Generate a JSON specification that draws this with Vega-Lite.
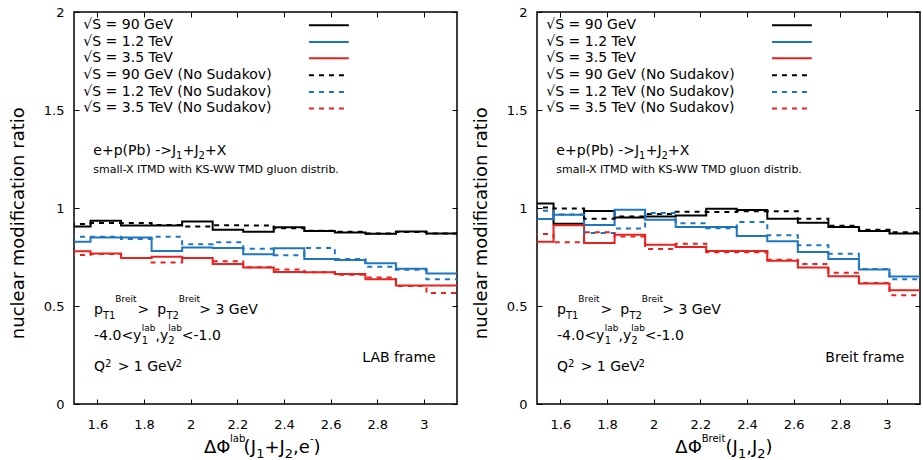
{
  "$schema": "https://vega.github.io/schema/vega-lite/v6.json",
  "background": "white",
  "padding": {"left": 8, "top": 5, "right": 2, "bottom": 2},
  "spacing": 12,
  "datasets": {
    "lab": [
      {"series": "√S = 90 GeV", "x0": 1.4399, "x1": 1.5708, "v": 0.906},
      {"series": "√S = 90 GeV", "x0": 1.5708, "x1": 1.7017, "v": 0.935},
      {"series": "√S = 90 GeV", "x0": 1.7017, "x1": 1.8326, "v": 0.911},
      {"series": "√S = 90 GeV", "x0": 1.8326, "x1": 1.9635, "v": 0.911},
      {"series": "√S = 90 GeV", "x0": 1.9635, "x1": 2.0944, "v": 0.931},
      {"series": "√S = 90 GeV", "x0": 2.0944, "x1": 2.2253, "v": 0.889},
      {"series": "√S = 90 GeV", "x0": 2.2253, "x1": 2.3562, "v": 0.879},
      {"series": "√S = 90 GeV", "x0": 2.3562, "x1": 2.4871, "v": 0.902},
      {"series": "√S = 90 GeV", "x0": 2.4871, "x1": 2.618, "v": 0.883},
      {"series": "√S = 90 GeV", "x0": 2.618, "x1": 2.7489, "v": 0.875},
      {"series": "√S = 90 GeV", "x0": 2.7489, "x1": 2.8798, "v": 0.868},
      {"series": "√S = 90 GeV", "x0": 2.8798, "x1": 3.0107, "v": 0.880},
      {"series": "√S = 90 GeV", "x0": 3.0107, "x1": 3.1416, "v": 0.870},
      {"series": "√S = 1.2 TeV", "x0": 1.4399, "x1": 1.5708, "v": 0.828},
      {"series": "√S = 1.2 TeV", "x0": 1.5708, "x1": 1.7017, "v": 0.850},
      {"series": "√S = 1.2 TeV", "x0": 1.7017, "x1": 1.8326, "v": 0.850},
      {"series": "√S = 1.2 TeV", "x0": 1.8326, "x1": 1.9635, "v": 0.781},
      {"series": "√S = 1.2 TeV", "x0": 1.9635, "x1": 2.0944, "v": 0.799},
      {"series": "√S = 1.2 TeV", "x0": 2.0944, "x1": 2.2253, "v": 0.796},
      {"series": "√S = 1.2 TeV", "x0": 2.2253, "x1": 2.3562, "v": 0.764},
      {"series": "√S = 1.2 TeV", "x0": 2.3562, "x1": 2.4871, "v": 0.795},
      {"series": "√S = 1.2 TeV", "x0": 2.4871, "x1": 2.618, "v": 0.740},
      {"series": "√S = 1.2 TeV", "x0": 2.618, "x1": 2.7489, "v": 0.735},
      {"series": "√S = 1.2 TeV", "x0": 2.7489, "x1": 2.8798, "v": 0.718},
      {"series": "√S = 1.2 TeV", "x0": 2.8798, "x1": 3.0107, "v": 0.690},
      {"series": "√S = 1.2 TeV", "x0": 3.0107, "x1": 3.1416, "v": 0.666},
      {"series": "√S = 3.5 TeV", "x0": 1.4399, "x1": 1.5708, "v": 0.779},
      {"series": "√S = 3.5 TeV", "x0": 1.5708, "x1": 1.7017, "v": 0.768},
      {"series": "√S = 3.5 TeV", "x0": 1.7017, "x1": 1.8326, "v": 0.745},
      {"series": "√S = 3.5 TeV", "x0": 1.8326, "x1": 1.9635, "v": 0.751},
      {"series": "√S = 3.5 TeV", "x0": 1.9635, "x1": 2.0944, "v": 0.745},
      {"series": "√S = 3.5 TeV", "x0": 2.0944, "x1": 2.2253, "v": 0.714},
      {"series": "√S = 3.5 TeV", "x0": 2.2253, "x1": 2.3562, "v": 0.696},
      {"series": "√S = 3.5 TeV", "x0": 2.3562, "x1": 2.4871, "v": 0.674},
      {"series": "√S = 3.5 TeV", "x0": 2.4871, "x1": 2.618, "v": 0.672},
      {"series": "√S = 3.5 TeV", "x0": 2.618, "x1": 2.7489, "v": 0.663},
      {"series": "√S = 3.5 TeV", "x0": 2.7489, "x1": 2.8798, "v": 0.636},
      {"series": "√S = 3.5 TeV", "x0": 2.8798, "x1": 3.0107, "v": 0.604},
      {"series": "√S = 3.5 TeV", "x0": 3.0107, "x1": 3.1416, "v": 0.604},
      {"series": "√S = 90 GeV (No Sudakov)", "x0": 1.4399, "x1": 1.5708, "v": 0.918},
      {"series": "√S = 90 GeV (No Sudakov)", "x0": 1.5708, "x1": 1.7017, "v": 0.923},
      {"series": "√S = 90 GeV (No Sudakov)", "x0": 1.7017, "x1": 1.8326, "v": 0.924},
      {"series": "√S = 90 GeV (No Sudakov)", "x0": 1.8326, "x1": 1.9635, "v": 0.913},
      {"series": "√S = 90 GeV (No Sudakov)", "x0": 1.9635, "x1": 2.0944, "v": 0.906},
      {"series": "√S = 90 GeV (No Sudakov)", "x0": 2.0944, "x1": 2.2253, "v": 0.912},
      {"series": "√S = 90 GeV (No Sudakov)", "x0": 2.2253, "x1": 2.3562, "v": 0.911},
      {"series": "√S = 90 GeV (No Sudakov)", "x0": 2.3562, "x1": 2.4871, "v": 0.897},
      {"series": "√S = 90 GeV (No Sudakov)", "x0": 2.4871, "x1": 2.618, "v": 0.884},
      {"series": "√S = 90 GeV (No Sudakov)", "x0": 2.618, "x1": 2.7489, "v": 0.879},
      {"series": "√S = 90 GeV (No Sudakov)", "x0": 2.7489, "x1": 2.8798, "v": 0.870},
      {"series": "√S = 90 GeV (No Sudakov)", "x0": 2.8798, "x1": 3.0107, "v": 0.878},
      {"series": "√S = 90 GeV (No Sudakov)", "x0": 3.0107, "x1": 3.1416, "v": 0.870},
      {"series": "√S = 1.2 TeV (No Sudakov)", "x0": 1.4399, "x1": 1.5708, "v": 0.853},
      {"series": "√S = 1.2 TeV (No Sudakov)", "x0": 1.5708, "x1": 1.7017, "v": 0.853},
      {"series": "√S = 1.2 TeV (No Sudakov)", "x0": 1.7017, "x1": 1.8326, "v": 0.842},
      {"series": "√S = 1.2 TeV (No Sudakov)", "x0": 1.8326, "x1": 1.9635, "v": 0.853},
      {"series": "√S = 1.2 TeV (No Sudakov)", "x0": 1.9635, "x1": 2.0944, "v": 0.815},
      {"series": "√S = 1.2 TeV (No Sudakov)", "x0": 2.0944, "x1": 2.2253, "v": 0.825},
      {"series": "√S = 1.2 TeV (No Sudakov)", "x0": 2.2253, "x1": 2.3562, "v": 0.792},
      {"series": "√S = 1.2 TeV (No Sudakov)", "x0": 2.3562, "x1": 2.4871, "v": 0.759},
      {"series": "√S = 1.2 TeV (No Sudakov)", "x0": 2.4871, "x1": 2.618, "v": 0.796},
      {"series": "√S = 1.2 TeV (No Sudakov)", "x0": 2.618, "x1": 2.7489, "v": 0.740},
      {"series": "√S = 1.2 TeV (No Sudakov)", "x0": 2.7489, "x1": 2.8798, "v": 0.700},
      {"series": "√S = 1.2 TeV (No Sudakov)", "x0": 2.8798, "x1": 3.0107, "v": 0.685},
      {"series": "√S = 1.2 TeV (No Sudakov)", "x0": 3.0107, "x1": 3.1416, "v": 0.637},
      {"series": "√S = 3.5 TeV (No Sudakov)", "x0": 1.4399, "x1": 1.5708, "v": 0.760},
      {"series": "√S = 3.5 TeV (No Sudakov)", "x0": 1.5708, "x1": 1.7017, "v": 0.765},
      {"series": "√S = 3.5 TeV (No Sudakov)", "x0": 1.7017, "x1": 1.8326, "v": 0.745},
      {"series": "√S = 3.5 TeV (No Sudakov)", "x0": 1.8326, "x1": 1.9635, "v": 0.722},
      {"series": "√S = 3.5 TeV (No Sudakov)", "x0": 1.9635, "x1": 2.0944, "v": 0.745},
      {"series": "√S = 3.5 TeV (No Sudakov)", "x0": 2.0944, "x1": 2.2253, "v": 0.728},
      {"series": "√S = 3.5 TeV (No Sudakov)", "x0": 2.2253, "x1": 2.3562, "v": 0.698},
      {"series": "√S = 3.5 TeV (No Sudakov)", "x0": 2.3562, "x1": 2.4871, "v": 0.686},
      {"series": "√S = 3.5 TeV (No Sudakov)", "x0": 2.4871, "x1": 2.618, "v": 0.672},
      {"series": "√S = 3.5 TeV (No Sudakov)", "x0": 2.618, "x1": 2.7489, "v": 0.659},
      {"series": "√S = 3.5 TeV (No Sudakov)", "x0": 2.7489, "x1": 2.8798, "v": 0.646},
      {"series": "√S = 3.5 TeV (No Sudakov)", "x0": 2.8798, "x1": 3.0107, "v": 0.602},
      {"series": "√S = 3.5 TeV (No Sudakov)", "x0": 3.0107, "x1": 3.1416, "v": 0.566}
    ],
    "breit": [
      {"series": "√S = 90 GeV", "x0": 1.4399, "x1": 1.5708, "v": 1.023},
      {"series": "√S = 90 GeV", "x0": 1.5708, "x1": 1.7017, "v": 0.920},
      {"series": "√S = 90 GeV", "x0": 1.7017, "x1": 1.8326, "v": 0.985},
      {"series": "√S = 90 GeV", "x0": 1.8326, "x1": 1.9635, "v": 0.952},
      {"series": "√S = 90 GeV", "x0": 1.9635, "x1": 2.0944, "v": 0.957},
      {"series": "√S = 90 GeV", "x0": 2.0944, "x1": 2.2253, "v": 0.962},
      {"series": "√S = 90 GeV", "x0": 2.2253, "x1": 2.3562, "v": 0.996},
      {"series": "√S = 90 GeV", "x0": 2.3562, "x1": 2.4871, "v": 0.990},
      {"series": "√S = 90 GeV", "x0": 2.4871, "x1": 2.618, "v": 0.945},
      {"series": "√S = 90 GeV", "x0": 2.618, "x1": 2.7489, "v": 0.925},
      {"series": "√S = 90 GeV", "x0": 2.7489, "x1": 2.8798, "v": 0.903},
      {"series": "√S = 90 GeV", "x0": 2.8798, "x1": 3.0107, "v": 0.883},
      {"series": "√S = 90 GeV", "x0": 3.0107, "x1": 3.1416, "v": 0.870},
      {"series": "√S = 1.2 TeV", "x0": 1.4399, "x1": 1.5708, "v": 0.944},
      {"series": "√S = 1.2 TeV", "x0": 1.5708, "x1": 1.7017, "v": 0.965},
      {"series": "√S = 1.2 TeV", "x0": 1.7017, "x1": 1.8326, "v": 0.913},
      {"series": "√S = 1.2 TeV", "x0": 1.8326, "x1": 1.9635, "v": 0.991},
      {"series": "√S = 1.2 TeV", "x0": 1.9635, "x1": 2.0944, "v": 0.940},
      {"series": "√S = 1.2 TeV", "x0": 2.0944, "x1": 2.2253, "v": 0.903},
      {"series": "√S = 1.2 TeV", "x0": 2.2253, "x1": 2.3562, "v": 0.903},
      {"series": "√S = 1.2 TeV", "x0": 2.3562, "x1": 2.4871, "v": 0.857},
      {"series": "√S = 1.2 TeV", "x0": 2.4871, "x1": 2.618, "v": 0.830},
      {"series": "√S = 1.2 TeV", "x0": 2.618, "x1": 2.7489, "v": 0.776},
      {"series": "√S = 1.2 TeV", "x0": 2.7489, "x1": 2.8798, "v": 0.740},
      {"series": "√S = 1.2 TeV", "x0": 2.8798, "x1": 3.0107, "v": 0.686},
      {"series": "√S = 1.2 TeV", "x0": 3.0107, "x1": 3.1416, "v": 0.650},
      {"series": "√S = 3.5 TeV", "x0": 1.4399, "x1": 1.5708, "v": 0.828},
      {"series": "√S = 3.5 TeV", "x0": 1.5708, "x1": 1.7017, "v": 0.912},
      {"series": "√S = 3.5 TeV", "x0": 1.7017, "x1": 1.8326, "v": 0.821},
      {"series": "√S = 3.5 TeV", "x0": 1.8326, "x1": 1.9635, "v": 0.864},
      {"series": "√S = 3.5 TeV", "x0": 1.9635, "x1": 2.0944, "v": 0.812},
      {"series": "√S = 3.5 TeV", "x0": 2.0944, "x1": 2.2253, "v": 0.801},
      {"series": "√S = 3.5 TeV", "x0": 2.2253, "x1": 2.3562, "v": 0.781},
      {"series": "√S = 3.5 TeV", "x0": 2.3562, "x1": 2.4871, "v": 0.781},
      {"series": "√S = 3.5 TeV", "x0": 2.4871, "x1": 2.618, "v": 0.731},
      {"series": "√S = 3.5 TeV", "x0": 2.618, "x1": 2.7489, "v": 0.696},
      {"series": "√S = 3.5 TeV", "x0": 2.7489, "x1": 2.8798, "v": 0.652},
      {"series": "√S = 3.5 TeV", "x0": 2.8798, "x1": 3.0107, "v": 0.615},
      {"series": "√S = 3.5 TeV", "x0": 3.0107, "x1": 3.1416, "v": 0.580},
      {"series": "√S = 90 GeV (No Sudakov)", "x0": 1.4399, "x1": 1.5708, "v": 1.003},
      {"series": "√S = 90 GeV (No Sudakov)", "x0": 1.5708, "x1": 1.7017, "v": 0.997},
      {"series": "√S = 90 GeV (No Sudakov)", "x0": 1.7017, "x1": 1.8326, "v": 0.945},
      {"series": "√S = 90 GeV (No Sudakov)", "x0": 1.8326, "x1": 1.9635, "v": 0.957},
      {"series": "√S = 90 GeV (No Sudakov)", "x0": 1.9635, "x1": 2.0944, "v": 0.969},
      {"series": "√S = 90 GeV (No Sudakov)", "x0": 2.0944, "x1": 2.2253, "v": 0.981},
      {"series": "√S = 90 GeV (No Sudakov)", "x0": 2.2253, "x1": 2.3562, "v": 0.980},
      {"series": "√S = 90 GeV (No Sudakov)", "x0": 2.3562, "x1": 2.4871, "v": 0.983},
      {"series": "√S = 90 GeV (No Sudakov)", "x0": 2.4871, "x1": 2.618, "v": 0.983},
      {"series": "√S = 90 GeV (No Sudakov)", "x0": 2.618, "x1": 2.7489, "v": 0.945},
      {"series": "√S = 90 GeV (No Sudakov)", "x0": 2.7489, "x1": 2.8798, "v": 0.910},
      {"series": "√S = 90 GeV (No Sudakov)", "x0": 2.8798, "x1": 3.0107, "v": 0.889},
      {"series": "√S = 90 GeV (No Sudakov)", "x0": 3.0107, "x1": 3.1416, "v": 0.876},
      {"series": "√S = 1.2 TeV (No Sudakov)", "x0": 1.4399, "x1": 1.5708, "v": 0.986},
      {"series": "√S = 1.2 TeV (No Sudakov)", "x0": 1.5708, "x1": 1.7017, "v": 0.967},
      {"series": "√S = 1.2 TeV (No Sudakov)", "x0": 1.7017, "x1": 1.8326, "v": 0.872},
      {"series": "√S = 1.2 TeV (No Sudakov)", "x0": 1.8326, "x1": 1.9635, "v": 0.896},
      {"series": "√S = 1.2 TeV (No Sudakov)", "x0": 1.9635, "x1": 2.0944, "v": 0.974},
      {"series": "√S = 1.2 TeV (No Sudakov)", "x0": 2.0944, "x1": 2.2253, "v": 0.922},
      {"series": "√S = 1.2 TeV (No Sudakov)", "x0": 2.2253, "x1": 2.3562, "v": 0.897},
      {"series": "√S = 1.2 TeV (No Sudakov)", "x0": 2.3562, "x1": 2.4871, "v": 0.928},
      {"series": "√S = 1.2 TeV (No Sudakov)", "x0": 2.4871, "x1": 2.618, "v": 0.861},
      {"series": "√S = 1.2 TeV (No Sudakov)", "x0": 2.618, "x1": 2.7489, "v": 0.810},
      {"series": "√S = 1.2 TeV (No Sudakov)", "x0": 2.7489, "x1": 2.8798, "v": 0.766},
      {"series": "√S = 1.2 TeV (No Sudakov)", "x0": 2.8798, "x1": 3.0107, "v": 0.689},
      {"series": "√S = 1.2 TeV (No Sudakov)", "x0": 3.0107, "x1": 3.1416, "v": 0.636},
      {"series": "√S = 3.5 TeV (No Sudakov)", "x0": 1.4399, "x1": 1.5708, "v": 0.867},
      {"series": "√S = 3.5 TeV (No Sudakov)", "x0": 1.5708, "x1": 1.7017, "v": 0.825},
      {"series": "√S = 3.5 TeV (No Sudakov)", "x0": 1.7017, "x1": 1.8326, "v": 0.876},
      {"series": "√S = 3.5 TeV (No Sudakov)", "x0": 1.8326, "x1": 1.9635, "v": 0.854},
      {"series": "√S = 3.5 TeV (No Sudakov)", "x0": 1.9635, "x1": 2.0944, "v": 0.791},
      {"series": "√S = 3.5 TeV (No Sudakov)", "x0": 2.0944, "x1": 2.2253, "v": 0.818},
      {"series": "√S = 3.5 TeV (No Sudakov)", "x0": 2.2253, "x1": 2.3562, "v": 0.774},
      {"series": "√S = 3.5 TeV (No Sudakov)", "x0": 2.3562, "x1": 2.4871, "v": 0.774},
      {"series": "√S = 3.5 TeV (No Sudakov)", "x0": 2.4871, "x1": 2.618, "v": 0.736},
      {"series": "√S = 3.5 TeV (No Sudakov)", "x0": 2.618, "x1": 2.7489, "v": 0.714},
      {"series": "√S = 3.5 TeV (No Sudakov)", "x0": 2.7489, "x1": 2.8798, "v": 0.670},
      {"series": "√S = 3.5 TeV (No Sudakov)", "x0": 2.8798, "x1": 3.0107, "v": 0.617},
      {"series": "√S = 3.5 TeV (No Sudakov)", "x0": 3.0107, "x1": 3.1416, "v": 0.555}
    ]
  },
  "hconcat": [
    {
      "width": 383,
      "height": 392,
      "resolve": {"axis": {"x": "independent", "y": "independent"}},
      "layer": [
        {
          "data": {"values": [{}]},
          "layer": [
            {
              "data": {"name": "lab"},
              "transform": [{"fold": ["x0", "x1"], "as": ["edge", "x"]}],
              "mark": {"type": "line", "clip": true, "strokeWidth": 2},
              "encoding": {
                "x": {"field": "x", "type": "quantitative", "scale": {"domain": [1.5, 3.1416], "nice": false, "zero": false},
                      "axis": {"orient": "bottom", "title": null, "values": [1.6, 1.8, 2, 2.2, 2.4, 2.6, 2.8, 3], "format": "~g", "labelPadding": 19}},
                "y": {"field": "v", "type": "quantitative", "scale": {"domain": [0, 2], "nice": false},
                      "axis": {"orient": "left", "title": "nuclear modification ratio", "values": [0, 0.5, 1, 1.5, 2], "format": "~g", "labelPadding": 15, "titleX": -51, "titleY": 210.7, "titleAngle": 270, "titleBaseline": "alphabetic", "titleAlign": "center"}},
                "color": {"field": "series", "type": "nominal", "legend": null,
                          "scale": {"domain": ["√S = 90 GeV", "√S = 1.2 TeV", "√S = 3.5 TeV", "√S = 90 GeV (No Sudakov)", "√S = 1.2 TeV (No Sudakov)", "√S = 3.5 TeV (No Sudakov)"],
                                    "range": ["#000000", "#1e76c0", "#e9211f", "#000000", "#1e76c0", "#e9211f"]}},
                "strokeDash": {"field": "series", "type": "nominal", "legend": null,
                          "scale": {"domain": ["√S = 90 GeV", "√S = 1.2 TeV", "√S = 3.5 TeV", "√S = 90 GeV (No Sudakov)", "√S = 1.2 TeV (No Sudakov)", "√S = 3.5 TeV (No Sudakov)"],
                                    "range": [[1, 0], [1, 0], [1, 0], [5, 5], [5, 5], [5, 5]]}},
                "order": [{"field": "x", "type": "quantitative"}, {"field": "edge", "type": "nominal", "sort": "descending"}]
              }
            },
            {"mark": {"type": "text", "text": "√S = 90 GeV", "baseline": "middle"}, "encoding": {"x": {"datum": 1.54, "type": "quantitative"}, "y": {"datum": 1.932, "type": "quantitative"}}},
            {"mark": {"type": "text", "text": "√S = 1.2 TeV", "baseline": "middle"}, "encoding": {"x": {"datum": 1.54, "type": "quantitative"}, "y": {"datum": 1.847, "type": "quantitative"}}},
            {"mark": {"type": "text", "text": "√S = 3.5 TeV", "baseline": "middle"}, "encoding": {"x": {"datum": 1.54, "type": "quantitative"}, "y": {"datum": 1.764, "type": "quantitative"}}},
            {"mark": {"type": "text", "text": "√S = 90 GeV (No Sudakov)", "baseline": "middle"}, "encoding": {"x": {"datum": 1.54, "type": "quantitative"}, "y": {"datum": 1.677, "type": "quantitative"}}},
            {"mark": {"type": "text", "text": "√S = 1.2 TeV (No Sudakov)", "baseline": "middle"}, "encoding": {"x": {"datum": 1.54, "type": "quantitative"}, "y": {"datum": 1.592, "type": "quantitative"}}},
            {"mark": {"type": "text", "text": "√S = 3.5 TeV (No Sudakov)", "baseline": "middle"}, "encoding": {"x": {"datum": 1.54, "type": "quantitative"}, "y": {"datum": 1.508, "type": "quantitative"}}},
            {"mark": {"type": "rule", "stroke": "#000000", "strokeWidth": 2}, "encoding": {"x": {"datum": 2.507, "type": "quantitative"}, "x2": {"datum": 2.678}, "y": {"datum": 1.932, "type": "quantitative"}}},
            {"mark": {"type": "rule", "stroke": "#1e76c0", "strokeWidth": 2}, "encoding": {"x": {"datum": 2.507, "type": "quantitative"}, "x2": {"datum": 2.678}, "y": {"datum": 1.847, "type": "quantitative"}}},
            {"mark": {"type": "rule", "stroke": "#e9211f", "strokeWidth": 2}, "encoding": {"x": {"datum": 2.507, "type": "quantitative"}, "x2": {"datum": 2.678}, "y": {"datum": 1.764, "type": "quantitative"}}},
            {"mark": {"type": "rule", "stroke": "#000000", "strokeWidth": 2, "strokeDash": [5, 5]}, "encoding": {"x": {"datum": 2.507, "type": "quantitative"}, "x2": {"datum": 2.678}, "y": {"datum": 1.677, "type": "quantitative"}}},
            {"mark": {"type": "rule", "stroke": "#1e76c0", "strokeWidth": 2, "strokeDash": [5, 5]}, "encoding": {"x": {"datum": 2.507, "type": "quantitative"}, "x2": {"datum": 2.678}, "y": {"datum": 1.592, "type": "quantitative"}}},
            {"mark": {"type": "rule", "stroke": "#e9211f", "strokeWidth": 2, "strokeDash": [5, 5]}, "encoding": {"x": {"datum": 2.507, "type": "quantitative"}, "x2": {"datum": 2.678}, "y": {"datum": 1.508, "type": "quantitative"}}},
            {"mark": {"type": "text", "text": "e+p(Pb) ->J"}, "encoding": {"x": {"datum": 1.583, "type": "quantitative"}, "y": {"datum": 1.272, "type": "quantitative"}}},
            {"mark": {"type": "text", "text": "1", "fontSize": 10}, "encoding": {"x": {"datum": 1.937, "type": "quantitative"}, "y": {"datum": 1.252, "type": "quantitative"}}},
            {"mark": {"type": "text", "text": "+J"}, "encoding": {"x": {"datum": 1.966, "type": "quantitative"}, "y": {"datum": 1.272, "type": "quantitative"}}},
            {"mark": {"type": "text", "text": "2", "fontSize": 10}, "encoding": {"x": {"datum": 2.034, "type": "quantitative"}, "y": {"datum": 1.252, "type": "quantitative"}}},
            {"mark": {"type": "text", "text": "+X"}, "encoding": {"x": {"datum": 2.062, "type": "quantitative"}, "y": {"datum": 1.272, "type": "quantitative"}}},
            {"mark": {"type": "text", "text": "small-X ITMD with KS-WW TMD gluon distrib.", "fontSize": 11}, "encoding": {"x": {"datum": 1.583, "type": "quantitative"}, "y": {"datum": 1.177, "type": "quantitative"}}},
            {"mark": {"type": "text", "text": "p"}, "encoding": {"x": {"datum": 1.586, "type": "quantitative"}, "y": {"datum": 0.459, "type": "quantitative"}}},
            {"mark": {"type": "text", "text": "T1", "fontSize": 10}, "encoding": {"x": {"datum": 1.624, "type": "quantitative"}, "y": {"datum": 0.435, "type": "quantitative"}}},
            {"mark": {"type": "text", "text": "Breit", "fontSize": 9}, "encoding": {"x": {"datum": 1.677, "type": "quantitative"}, "y": {"datum": 0.518, "type": "quantitative"}}},
            {"mark": {"type": "text", "text": ">"}, "encoding": {"x": {"datum": 1.772, "type": "quantitative"}, "y": {"datum": 0.459, "type": "quantitative"}}},
            {"mark": {"type": "text", "text": "p"}, "encoding": {"x": {"datum": 1.857, "type": "quantitative"}, "y": {"datum": 0.459, "type": "quantitative"}}},
            {"mark": {"type": "text", "text": "T2", "fontSize": 10}, "encoding": {"x": {"datum": 1.896, "type": "quantitative"}, "y": {"datum": 0.435, "type": "quantitative"}}},
            {"mark": {"type": "text", "text": "Breit", "fontSize": 9}, "encoding": {"x": {"datum": 1.949, "type": "quantitative"}, "y": {"datum": 0.518, "type": "quantitative"}}},
            {"mark": {"type": "text", "text": "> 3 GeV"}, "encoding": {"x": {"datum": 2.037, "type": "quantitative"}, "y": {"datum": 0.459, "type": "quantitative"}}},
            {"mark": {"type": "text", "text": "-4.0<y"}, "encoding": {"x": {"datum": 1.586, "type": "quantitative"}, "y": {"datum": 0.327, "type": "quantitative"}}},
            {"mark": {"type": "text", "text": "1", "fontSize": 10}, "encoding": {"x": {"datum": 1.79, "type": "quantitative"}, "y": {"datum": 0.306, "type": "quantitative"}}},
            {"mark": {"type": "text", "text": "lab", "fontSize": 9}, "encoding": {"x": {"datum": 1.79, "type": "quantitative"}, "y": {"datum": 0.37, "type": "quantitative"}}},
            {"mark": {"type": "text", "text": ",y"}, "encoding": {"x": {"datum": 1.849, "type": "quantitative"}, "y": {"datum": 0.327, "type": "quantitative"}}},
            {"mark": {"type": "text", "text": "2", "fontSize": 10}, "encoding": {"x": {"datum": 1.904, "type": "quantitative"}, "y": {"datum": 0.306, "type": "quantitative"}}},
            {"mark": {"type": "text", "text": "lab", "fontSize": 9}, "encoding": {"x": {"datum": 1.904, "type": "quantitative"}, "y": {"datum": 0.37, "type": "quantitative"}}},
            {"mark": {"type": "text", "text": "<-1.0"}, "encoding": {"x": {"datum": 1.962, "type": "quantitative"}, "y": {"datum": 0.327, "type": "quantitative"}}},
            {"mark": {"type": "text", "text": "Q"}, "encoding": {"x": {"datum": 1.586, "type": "quantitative"}, "y": {"datum": 0.17, "type": "quantitative"}}},
            {"mark": {"type": "text", "text": "2", "fontSize": 10}, "encoding": {"x": {"datum": 1.633, "type": "quantitative"}, "y": {"datum": 0.189, "type": "quantitative"}}},
            {"mark": {"type": "text", "text": "> 1 GeV"}, "encoding": {"x": {"datum": 1.687, "type": "quantitative"}, "y": {"datum": 0.17, "type": "quantitative"}}},
            {"mark": {"type": "text", "text": "2", "fontSize": 10}, "encoding": {"x": {"datum": 1.935, "type": "quantitative"}, "y": {"datum": 0.189, "type": "quantitative"}}},
            {"mark": {"type": "text", "text": "LAB frame"}, "encoding": {"x": {"datum": 2.736, "type": "quantitative"}, "y": {"datum": 0.212, "type": "quantitative"}}},
            {"mark": {"type": "text", "text": "ΔΦ", "fontSize": 18}, "encoding": {"x": {"datum": 2.057, "type": "quantitative"}, "y": {"datum": -0.252, "type": "quantitative"}}},
            {"mark": {"type": "text", "text": "lab", "fontSize": 10}, "encoding": {"x": {"datum": 2.169, "type": "quantitative"}, "y": {"datum": -0.196, "type": "quantitative"}}},
            {"mark": {"type": "text", "text": "(J", "fontSize": 18}, "encoding": {"x": {"datum": 2.227, "type": "quantitative"}, "y": {"datum": -0.252, "type": "quantitative"}}},
            {"mark": {"type": "text", "text": "1", "fontSize": 13}, "encoding": {"x": {"datum": 2.281, "type": "quantitative"}, "y": {"datum": -0.274, "type": "quantitative"}}},
            {"mark": {"type": "text", "text": "+J", "fontSize": 18}, "encoding": {"x": {"datum": 2.316, "type": "quantitative"}, "y": {"datum": -0.252, "type": "quantitative"}}},
            {"mark": {"type": "text", "text": "2", "fontSize": 13}, "encoding": {"x": {"datum": 2.403, "type": "quantitative"}, "y": {"datum": -0.274, "type": "quantitative"}}},
            {"mark": {"type": "text", "text": ",e", "fontSize": 18}, "encoding": {"x": {"datum": 2.439, "type": "quantitative"}, "y": {"datum": -0.252, "type": "quantitative"}}},
            {"mark": {"type": "text", "text": "-", "fontSize": 10}, "encoding": {"x": {"datum": 2.511, "type": "quantitative"}, "y": {"datum": -0.196, "type": "quantitative"}}},
            {"mark": {"type": "text", "text": ")", "fontSize": 18}, "encoding": {"x": {"datum": 2.526, "type": "quantitative"}, "y": {"datum": -0.252, "type": "quantitative"}}}
          ]
        },
        {
          "data": {"values": [{}]},
          "mark": {"type": "point", "opacity": 0},
          "encoding": {
            "x": {"datum": 2, "type": "quantitative", "axis": {"orient": "top", "labels": false, "title": null, "values": [1.6, 1.8, 2, 2.2, 2.4, 2.6, 2.8, 3]}},
            "y": {"datum": 1, "type": "quantitative", "axis": {"orient": "right", "labels": false, "title": null, "values": [0, 0.5, 1, 1.5, 2]}}
          }
        }
      ]
    },
    {
      "width": 383,
      "height": 392,
      "resolve": {"axis": {"x": "independent", "y": "independent"}},
      "layer": [
        {
          "data": {"values": [{}]},
          "layer": [
            {
              "data": {"name": "breit"},
              "transform": [{"fold": ["x0", "x1"], "as": ["edge", "x"]}],
              "mark": {"type": "line", "clip": true, "strokeWidth": 2},
              "encoding": {
                "x": {"field": "x", "type": "quantitative", "scale": {"domain": [1.5, 3.1416], "nice": false, "zero": false},
                      "axis": {"orient": "bottom", "title": null, "values": [1.6, 1.8, 2, 2.2, 2.4, 2.6, 2.8, 3], "format": "~g", "labelPadding": 19}},
                "y": {"field": "v", "type": "quantitative", "scale": {"domain": [0, 2], "nice": false},
                      "axis": {"orient": "left", "title": "nuclear modification ratio", "values": [0, 0.5, 1, 1.5, 2], "format": "~g", "labelPadding": 15, "titleX": -51, "titleY": 210.7, "titleAngle": 270, "titleBaseline": "alphabetic", "titleAlign": "center"}},
                "color": {"field": "series", "type": "nominal", "legend": null,
                          "scale": {"domain": ["√S = 90 GeV", "√S = 1.2 TeV", "√S = 3.5 TeV", "√S = 90 GeV (No Sudakov)", "√S = 1.2 TeV (No Sudakov)", "√S = 3.5 TeV (No Sudakov)"],
                                    "range": ["#000000", "#1e76c0", "#e9211f", "#000000", "#1e76c0", "#e9211f"]}},
                "strokeDash": {"field": "series", "type": "nominal", "legend": null,
                          "scale": {"domain": ["√S = 90 GeV", "√S = 1.2 TeV", "√S = 3.5 TeV", "√S = 90 GeV (No Sudakov)", "√S = 1.2 TeV (No Sudakov)", "√S = 3.5 TeV (No Sudakov)"],
                                    "range": [[1, 0], [1, 0], [1, 0], [5, 5], [5, 5], [5, 5]]}},
                "order": [{"field": "x", "type": "quantitative"}, {"field": "edge", "type": "nominal", "sort": "descending"}]
              }
            },
            {"mark": {"type": "text", "text": "√S = 90 GeV", "baseline": "middle"}, "encoding": {"x": {"datum": 1.54, "type": "quantitative"}, "y": {"datum": 1.932, "type": "quantitative"}}},
            {"mark": {"type": "text", "text": "√S = 1.2 TeV", "baseline": "middle"}, "encoding": {"x": {"datum": 1.54, "type": "quantitative"}, "y": {"datum": 1.847, "type": "quantitative"}}},
            {"mark": {"type": "text", "text": "√S = 3.5 TeV", "baseline": "middle"}, "encoding": {"x": {"datum": 1.54, "type": "quantitative"}, "y": {"datum": 1.764, "type": "quantitative"}}},
            {"mark": {"type": "text", "text": "√S = 90 GeV (No Sudakov)", "baseline": "middle"}, "encoding": {"x": {"datum": 1.54, "type": "quantitative"}, "y": {"datum": 1.677, "type": "quantitative"}}},
            {"mark": {"type": "text", "text": "√S = 1.2 TeV (No Sudakov)", "baseline": "middle"}, "encoding": {"x": {"datum": 1.54, "type": "quantitative"}, "y": {"datum": 1.592, "type": "quantitative"}}},
            {"mark": {"type": "text", "text": "√S = 3.5 TeV (No Sudakov)", "baseline": "middle"}, "encoding": {"x": {"datum": 1.54, "type": "quantitative"}, "y": {"datum": 1.508, "type": "quantitative"}}},
            {"mark": {"type": "rule", "stroke": "#000000", "strokeWidth": 2}, "encoding": {"x": {"datum": 2.507, "type": "quantitative"}, "x2": {"datum": 2.678}, "y": {"datum": 1.932, "type": "quantitative"}}},
            {"mark": {"type": "rule", "stroke": "#1e76c0", "strokeWidth": 2}, "encoding": {"x": {"datum": 2.507, "type": "quantitative"}, "x2": {"datum": 2.678}, "y": {"datum": 1.847, "type": "quantitative"}}},
            {"mark": {"type": "rule", "stroke": "#e9211f", "strokeWidth": 2}, "encoding": {"x": {"datum": 2.507, "type": "quantitative"}, "x2": {"datum": 2.678}, "y": {"datum": 1.764, "type": "quantitative"}}},
            {"mark": {"type": "rule", "stroke": "#000000", "strokeWidth": 2, "strokeDash": [5, 5]}, "encoding": {"x": {"datum": 2.507, "type": "quantitative"}, "x2": {"datum": 2.678}, "y": {"datum": 1.677, "type": "quantitative"}}},
            {"mark": {"type": "rule", "stroke": "#1e76c0", "strokeWidth": 2, "strokeDash": [5, 5]}, "encoding": {"x": {"datum": 2.507, "type": "quantitative"}, "x2": {"datum": 2.678}, "y": {"datum": 1.592, "type": "quantitative"}}},
            {"mark": {"type": "rule", "stroke": "#e9211f", "strokeWidth": 2, "strokeDash": [5, 5]}, "encoding": {"x": {"datum": 2.507, "type": "quantitative"}, "x2": {"datum": 2.678}, "y": {"datum": 1.508, "type": "quantitative"}}},
            {"mark": {"type": "text", "text": "e+p(Pb) ->J"}, "encoding": {"x": {"datum": 1.583, "type": "quantitative"}, "y": {"datum": 1.272, "type": "quantitative"}}},
            {"mark": {"type": "text", "text": "1", "fontSize": 10}, "encoding": {"x": {"datum": 1.937, "type": "quantitative"}, "y": {"datum": 1.252, "type": "quantitative"}}},
            {"mark": {"type": "text", "text": "+J"}, "encoding": {"x": {"datum": 1.966, "type": "quantitative"}, "y": {"datum": 1.272, "type": "quantitative"}}},
            {"mark": {"type": "text", "text": "2", "fontSize": 10}, "encoding": {"x": {"datum": 2.034, "type": "quantitative"}, "y": {"datum": 1.252, "type": "quantitative"}}},
            {"mark": {"type": "text", "text": "+X"}, "encoding": {"x": {"datum": 2.062, "type": "quantitative"}, "y": {"datum": 1.272, "type": "quantitative"}}},
            {"mark": {"type": "text", "text": "small-X ITMD with KS-WW TMD gluon distrib.", "fontSize": 11}, "encoding": {"x": {"datum": 1.583, "type": "quantitative"}, "y": {"datum": 1.177, "type": "quantitative"}}},
            {"mark": {"type": "text", "text": "p"}, "encoding": {"x": {"datum": 1.586, "type": "quantitative"}, "y": {"datum": 0.459, "type": "quantitative"}}},
            {"mark": {"type": "text", "text": "T1", "fontSize": 10}, "encoding": {"x": {"datum": 1.624, "type": "quantitative"}, "y": {"datum": 0.435, "type": "quantitative"}}},
            {"mark": {"type": "text", "text": "Breit", "fontSize": 9}, "encoding": {"x": {"datum": 1.677, "type": "quantitative"}, "y": {"datum": 0.518, "type": "quantitative"}}},
            {"mark": {"type": "text", "text": ">"}, "encoding": {"x": {"datum": 1.772, "type": "quantitative"}, "y": {"datum": 0.459, "type": "quantitative"}}},
            {"mark": {"type": "text", "text": "p"}, "encoding": {"x": {"datum": 1.857, "type": "quantitative"}, "y": {"datum": 0.459, "type": "quantitative"}}},
            {"mark": {"type": "text", "text": "T2", "fontSize": 10}, "encoding": {"x": {"datum": 1.896, "type": "quantitative"}, "y": {"datum": 0.435, "type": "quantitative"}}},
            {"mark": {"type": "text", "text": "Breit", "fontSize": 9}, "encoding": {"x": {"datum": 1.949, "type": "quantitative"}, "y": {"datum": 0.518, "type": "quantitative"}}},
            {"mark": {"type": "text", "text": "> 3 GeV"}, "encoding": {"x": {"datum": 2.037, "type": "quantitative"}, "y": {"datum": 0.459, "type": "quantitative"}}},
            {"mark": {"type": "text", "text": "-4.0<y"}, "encoding": {"x": {"datum": 1.586, "type": "quantitative"}, "y": {"datum": 0.327, "type": "quantitative"}}},
            {"mark": {"type": "text", "text": "1", "fontSize": 10}, "encoding": {"x": {"datum": 1.79, "type": "quantitative"}, "y": {"datum": 0.306, "type": "quantitative"}}},
            {"mark": {"type": "text", "text": "lab", "fontSize": 9}, "encoding": {"x": {"datum": 1.79, "type": "quantitative"}, "y": {"datum": 0.37, "type": "quantitative"}}},
            {"mark": {"type": "text", "text": ",y"}, "encoding": {"x": {"datum": 1.849, "type": "quantitative"}, "y": {"datum": 0.327, "type": "quantitative"}}},
            {"mark": {"type": "text", "text": "2", "fontSize": 10}, "encoding": {"x": {"datum": 1.904, "type": "quantitative"}, "y": {"datum": 0.306, "type": "quantitative"}}},
            {"mark": {"type": "text", "text": "lab", "fontSize": 9}, "encoding": {"x": {"datum": 1.904, "type": "quantitative"}, "y": {"datum": 0.37, "type": "quantitative"}}},
            {"mark": {"type": "text", "text": "<-1.0"}, "encoding": {"x": {"datum": 1.962, "type": "quantitative"}, "y": {"datum": 0.327, "type": "quantitative"}}},
            {"mark": {"type": "text", "text": "Q"}, "encoding": {"x": {"datum": 1.586, "type": "quantitative"}, "y": {"datum": 0.17, "type": "quantitative"}}},
            {"mark": {"type": "text", "text": "2", "fontSize": 10}, "encoding": {"x": {"datum": 1.633, "type": "quantitative"}, "y": {"datum": 0.189, "type": "quantitative"}}},
            {"mark": {"type": "text", "text": "> 1 GeV"}, "encoding": {"x": {"datum": 1.687, "type": "quantitative"}, "y": {"datum": 0.17, "type": "quantitative"}}},
            {"mark": {"type": "text", "text": "2", "fontSize": 10}, "encoding": {"x": {"datum": 1.935, "type": "quantitative"}, "y": {"datum": 0.189, "type": "quantitative"}}},
            {"mark": {"type": "text", "text": "Breit frame"}, "encoding": {"x": {"datum": 2.736, "type": "quantitative"}, "y": {"datum": 0.212, "type": "quantitative"}}},
            {"mark": {"type": "text", "text": "ΔΦ", "fontSize": 18}, "encoding": {"x": {"datum": 2.093, "type": "quantitative"}, "y": {"datum": -0.252, "type": "quantitative"}}},
            {"mark": {"type": "text", "text": "Breit", "fontSize": 10}, "encoding": {"x": {"datum": 2.206, "type": "quantitative"}, "y": {"datum": -0.196, "type": "quantitative"}}},
            {"mark": {"type": "text", "text": "(J", "fontSize": 18}, "encoding": {"x": {"datum": 2.308, "type": "quantitative"}, "y": {"datum": -0.252, "type": "quantitative"}}},
            {"mark": {"type": "text", "text": "1", "fontSize": 13}, "encoding": {"x": {"datum": 2.361, "type": "quantitative"}, "y": {"datum": -0.274, "type": "quantitative"}}},
            {"mark": {"type": "text", "text": ",J", "fontSize": 18}, "encoding": {"x": {"datum": 2.397, "type": "quantitative"}, "y": {"datum": -0.252, "type": "quantitative"}}},
            {"mark": {"type": "text", "text": "2", "fontSize": 13}, "encoding": {"x": {"datum": 2.444, "type": "quantitative"}, "y": {"datum": -0.274, "type": "quantitative"}}},
            {"mark": {"type": "text", "text": ")", "fontSize": 18}, "encoding": {"x": {"datum": 2.479, "type": "quantitative"}, "y": {"datum": -0.252, "type": "quantitative"}}}
          ]
        },
        {
          "data": {"values": [{}]},
          "mark": {"type": "point", "opacity": 0},
          "encoding": {
            "x": {"datum": 2, "type": "quantitative", "axis": {"orient": "top", "labels": false, "title": null, "values": [1.6, 1.8, 2, 2.2, 2.4, 2.6, 2.8, 3]}},
            "y": {"datum": 1, "type": "quantitative", "axis": {"orient": "right", "labels": false, "title": null, "values": [0, 0.5, 1, 1.5, 2]}}
          }
        }
      ]
    }
  ],
  "config": {
    "view": {"stroke": "#000000", "strokeWidth": 1.5},
    "font": "DejaVu Sans",
    "axis": {"grid": false, "domain": false, "ticks": true, "tickColor": "#000000", "tickSize": -5, "tickWidth": 1,
             "labelFont": "DejaVu Sans", "labelFontSize": 13, "labelColor": "#000000",
             "titleFont": "DejaVu Sans", "titleFontSize": 18, "titleFontWeight": "normal", "titleColor": "#000000"},
    "text": {"font": "DejaVu Sans", "fontSize": 14, "align": "left", "baseline": "alphabetic", "color": "#000000"}
  }
}
